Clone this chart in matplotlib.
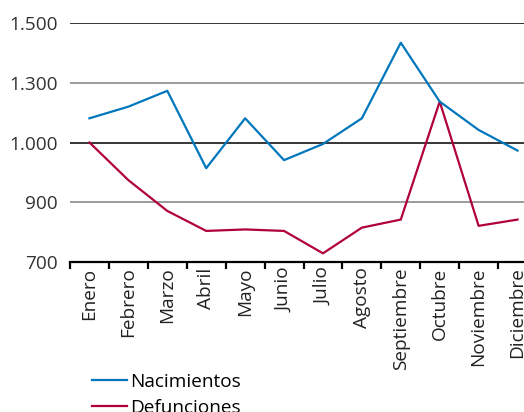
import matplotlib
matplotlib.use("Agg")
import matplotlib.pyplot as plt
from matplotlib.lines import Line2D

meses = ["Enero", "Febrero", "Marzo", "Abril", "Mayo", "Junio", "Julio",
         "Agosto", "Septiembre", "Octubre", "Noviembre", "Diciembre"]
nacimientos = [1181, 1220, 1273, 1014, 1181, 1041, 1095, 1181, 1434, 1237, 1142, 1073]
defunciones = [1100, 974, 871, 804, 809, 804, 729, 815, 842, 1237, 821, 842]
y_ticks = [700, 900, 1100, 1300, 1500]
y_labels = ["700", "900", "1.000", "1.300", "1.500"]

plt.rcParams['font.family'] = ['Open Sans', 'DejaVu Sans']
fs = 13.7

fig = plt.figure(figsize=(5.24, 4.12), dpi=100)
# axes runs a bit past the right edge, like the original
ax = fig.add_axes([70 / 524, 150 / 412, 467 / 524, 239 / 412])

x = list(range(len(meses)))
ax.plot(x, defunciones, color='#B0003E', lw=1.6, zorder=3, label='Defunciones')
ax.plot(x, nacimientos, color='#0077BD', lw=1.6, zorder=4, label='Nacimientos')

ax.set_xlim(-0.5, len(meses) - 0.5)
ax.set_ylim(700, 1500)

# gridlines, alternating black / gray
for i, t in enumerate(y_ticks[1:]):
    ax.axhline(t, color='black' if i % 2 else '#808080', lw=1.1, zorder=1)

ax.set_yticks(y_ticks)
ax.set_yticklabels(y_labels)
ax.tick_params(axis='y', length=0, pad=9, labelsize=fs, labelcolor='#333333')

ax.set_xticks([i - 0.5 for i in range(len(meses) + 1)])
ax.set_xticklabels([])
ax.set_xticks(x, minor=True)
ax.set_xticklabels(meses, minor=True, rotation=90)
ax.tick_params(axis='x', which='major', direction='out', length=5, width=1.6, color='black')
ax.tick_params(axis='x', which='minor', length=0, pad=4, labelsize=fs, labelcolor='#222222')

for s in ['top', 'left', 'right']:
    ax.spines[s].set_visible(False)
ax.spines['bottom'].set_linewidth(1.6)
ax.spines['bottom'].set_zorder(5)

handles = [Line2D([], [], color='#0077BD', lw=1.6), Line2D([], [], color='#B0003E', lw=1.6)]
fig.legend(handles, ['Nacimientos', 'Defunciones'], loc='upper left',
           bbox_to_anchor=(92 / 524, 1 - 373 / 412), frameon=False, fontsize=fs,
           handlelength=1.84, handletextpad=0.16, labelspacing=0.42, borderpad=0,
           borderaxespad=0)

fig.savefig('out.png', dpi=100)
